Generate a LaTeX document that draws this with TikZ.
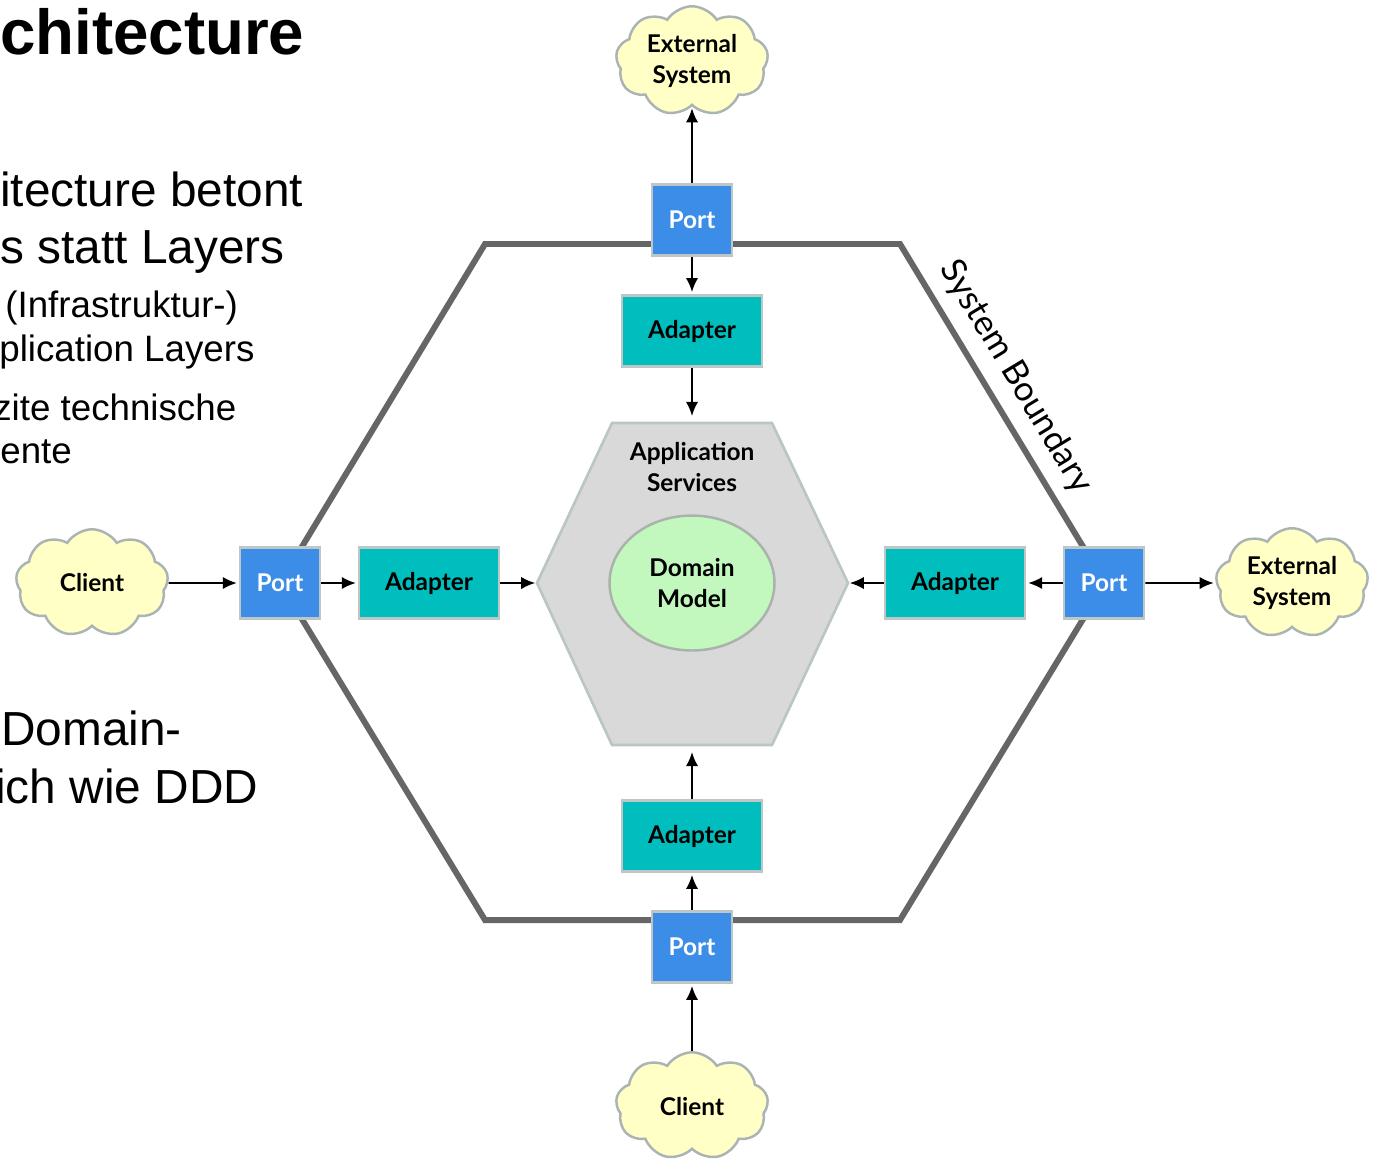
\documentclass[tikz,border=0pt]{standalone}
\usepackage{fontspec}
\setmainfont{Lato}
\newfontfamily\slidefont{Liberation Sans}
\usetikzlibrary{shapes.geometric,shapes.symbols,arrows.meta}

\definecolor{portblue}{HTML}{3C8DE8}
\definecolor{adapterteal}{HTML}{00BEBE}
\definecolor{boxline}{HTML}{BFC6C6}
\definecolor{cloudyellow}{HTML}{FFFFC6}
\definecolor{cloudline}{HTML}{AAB4B4}
\definecolor{hexgray}{HTML}{D9D9D9}
\definecolor{hexline}{HTML}{BAC6C6}
\definecolor{domgreen}{HTML}{C2F7BE}
\definecolor{domline}{HTML}{AAB2AC}
\definecolor{boundary}{HTML}{666666}

\begin{document}
\begin{tikzpicture}[x=0.02cm,y=-0.02cm]
	\tikzset{
	lbl/.style={font=\fontsize{13.9}{18}\selectfont\bfseries, align=center},
	port/.style={rectangle, draw=boxline, line width=1.6pt, fill=portblue, text=white, lbl, minimum width=1.6cm, minimum height=1.43cm, inner sep=0pt},
	adapter/.style={port, fill=adapterteal, text=black, minimum width=2.8cm},
	ext/.style={cloud, cloud puffs=9, cloud puff arc=115, aspect=1.4, draw=cloudline, line width=1.4pt, fill=cloudyellow, lbl, minimum width=3.05cm, minimum height=2.15cm, inner sep=0pt},
	slidetext/.style={anchor=base west, inner sep=0pt},
	arrow/.style={-{Latex[length=8pt,width=7pt]}, line width=1.1pt, shorten >=1pt}}

	\def\big{\slidefont\fontsize{27.2}{32}\selectfont}
	\def\small{\slidefont\fontsize{20.9}{25}\selectfont}

	\useasboundingbox (0,0) rectangle (1375,1161);
	\fill[white] (0,0) rectangle (1375,1161);

	%slide text
	\node[slidetext, font=\slidefont\bfseries\fontsize{36.2}{40}\selectfont] (title) at (0,54) {chitecture};
	\node[slidetext, font=\big] (t1) at (0,206) {itecture betont};
	\node[slidetext, font=\big] (t2) at (0,263) {s statt Layers};
	\node[slidetext, font=\small] (t3) at (5,317) {(Infrastruktur-)};
	\node[slidetext, font=\small] (t4) at (-1,361) {plication Layers};
	\node[slidetext, font=\small] (t5) at (-7,420) {zite technische};
	\node[slidetext, font=\small] (t6) at (0,463) {ente};
	\node[slidetext, font=\big] (t7) at (1,745) {Domain-};
	\node[slidetext, font=\big] (t8) at (-5,803) {ich wie DDD};

	%system boundary
	\draw[boundary, line width=3.4pt, line join=miter] (485,244) -- (900,244) -- (1105,583) -- (900,920) -- (485,920) -- (280,583) -- cycle;
	\node[rotate=-58.84, font=\fontsize{19.6}{22}\selectfont] (sysb) at (1016,377) {System Boundary};

	%application services
	\filldraw[fill=hexgray, draw=hexline, line width=1.5pt] (612,423) -- (772,423) -- (848,583) -- (772,745) -- (612,745) -- (537,583) -- cycle;
	\coordinate (appN) at (692,423);
	\coordinate (appS) at (692,745);
	\coordinate (appW) at (537,583);
	\coordinate (appE) at (848,583);
	\node[lbl] (apps) at (692,467) {Application\\Services};
	\node[ellipse, draw=domline, line width=1.4pt, fill=domgreen, lbl, minimum width=3.3cm, minimum height=2.7cm] (dom) at (692,583) {Domain\\Model};

	%ports and adapters
	\node[port] (portN) at (692,220) {Port};
	\node[port] (portW) at (280,583) {Port};
	\node[port] (portE) at (1104,583) {Port};
	\node[port] (portS) at (692,947) {Port};
	\node[adapter] (adN) at (692,331) {Adapter};
	\node[adapter] (adW) at (429,583) {Adapter};
	\node[adapter] (adE) at (955,583) {Adapter};
	\node[adapter] (adS) at (692,836) {Adapter};

	%clients and external systems
	\node[ext] (extN) at (692,61) {External\\System};
	\node[ext] (clientW) at (92,583) {Client};
	\node[ext] (extE) at (1292,583) {External\\System};
	\node[ext] (clientS) at (692,1106) {Client};

	%arrows
	\draw[arrow] (portN) -- (extN);
	\draw[arrow] (portN) -- (adN);
	\draw[arrow, shorten >=4pt] (adN) -- (appN);
	\draw[arrow] (clientW) -- (portW);
	\draw[arrow] (portW) -- (adW);
	\draw[arrow] (adW) -- (appW);
	\draw[arrow] (portE) -- (extE);
	\draw[arrow] (portE) -- (adE);
	\draw[arrow] (adE) -- (appE);
	\draw[arrow, shorten >=4pt] (adS) -- (appS);
	\draw[arrow] (portS) -- (adS);
	\draw[arrow] (clientS) -- (portS);
\end{tikzpicture}
\end{document}
